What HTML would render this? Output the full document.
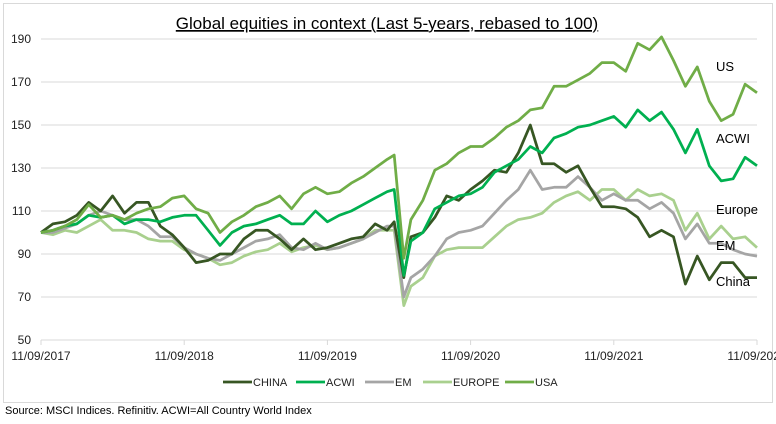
<!DOCTYPE html>
<html><head><meta charset="utf-8"><style>
body{margin:0;background:#fff;width:776px;height:419px;overflow:hidden;font-family:"Liberation Sans",sans-serif}
</style></head><body>
<svg width="776" height="419" xmlns="http://www.w3.org/2000/svg">
<rect x="3.5" y="3.5" width="769" height="399" fill="#fff" stroke="#d9d9d9"/>
<text x="387" y="29" text-anchor="middle" font-size="17" fill="#000" text-decoration="underline">Global equities in context (Last 5-years, rebased to 100)</text>
<g id="grid"></g>
<g id="yticks"></g>
<g id="xticks"></g>
<g id="series"></g>
<g font-size="13" fill="#000">
<text x="716" y="71">US</text>
<text x="716" y="143">ACWI</text>
<text x="716" y="214">Europe</text>
<text x="716" y="250">EM</text>
<text x="716" y="286">China</text>
</g>
<g id="legend"></g>
<text x="5" y="414" font-size="11" fill="#000">Source: MSCI Indices. Refinitiv. ACWI=All Country World Index</text>
</svg>
<script>
const months=[0,1,2,3,4,5,6,7,8,9,10,11,12,13,14,15,16,17,18,19,20,21,22,23,24,25,26,27,28,29,29.6,30.4,31,32,33,34,35,36,37,38,39,40,41,42,43,44,45,46,47,48,49,50,51,52,53,54,55,56,57,58,59,60];
const usa=[100,101,103,106,113,107,108,106,109,111,112,116,117,111,109,100,105,108,112,114,117,111,118,121,118,119,123,126,130,134,136,88,106,115,129,132,137,140,140,144,149,152,157,158,168,168,171,174,179,179,175,188,185,191,180,168,177,161,152,155,169,165];
const acwi=[100,101,103,104,108,107,108,104,106,106,105,107,108,108,101,94,100,103,104,106,108,104,104,110,105,108,110,113,116,119,120,80,96,100,111,114,117,118,121,128,131,134,140,137,144,146,149,150,152,154,149,157,152,156,148,137,148,131,124,125,135,131];
const china=[100,104,105,108,114,110,117,109,114,114,103,99,93,86,87,90,90,97,101,101,97,92,97,92,93,95,97,98,104,101,105,79,98,100,107,117,115,120,124,129,128,137,150,132,132,128,131,121,112,112,111,107,98,101,98,76,89,78,86,86,79,79];
const em=[100,100,102,104,108,110,108,106,106,103,98,98,93,90,88,87,90,93,96,97,99,93,92,95,92,93,95,97,100,103,103,70,79,83,89,97,100,101,103,109,115,120,129,120,121,121,126,121,115,118,115,115,111,114,109,97,104,95,95,92,90,89];
const europe=[100,99,101,100,103,106,101,101,100,97,96,96,92,90,88,85,86,89,91,92,95,91,93,94,92,93,95,97,101,101,101,66,75,79,89,92,93,93,93,98,103,106,107,109,114,117,119,115,120,120,115,120,117,118,115,101,109,97,103,97,98,93];
const yTicks=[50,70,90,110,130,150,170,190];
const xTickMonths=[0,12,24,36,48,60];
const xTickLabels=["11/09/2017","11/09/2018","11/09/2019","11/09/2020","11/09/2021","11/09/2022"];
const seriesNames=["CHINA","ACWI","EM","EUROPE","USA"];
const NS="http://www.w3.org/2000/svg";
const X0=41,X1=757,Y0=340,Y1=39;
const x=m=>X0+(X1-X0)*m/60;
const y=v=>Y0-(v-50)*(Y0-Y1)/140;
function mk(tag,attrs,parent){const e=document.createElementNS(NS,tag);for(const k in attrs)e.setAttribute(k,attrs[k]);parent.appendChild(e);return e;}
const grid=document.getElementById('grid'),yt=document.getElementById('yticks'),xt=document.getElementById('xticks');
yTicks.forEach(v=>{
  const l=mk('line',{x1:X0,x2:X1,y1:y(v),y2:y(v),stroke:'#d9d9d9','stroke-width':1},grid);
  
  
  const t=mk('text',{x:31,y:y(v)+4,'text-anchor':'end','font-size':12,fill:'#222'},yt);
  t.textContent=v;
  
  
});
xTickMonths.forEach((m,i)=>{
  const l=mk('line',{x1:x(m),x2:x(m),y1:Y0,y2:Y0+5,stroke:'#d9d9d9'},xt);
  
  
  const t=mk('text',{x:x(m),y:360,'text-anchor':'middle','font-size':12,fill:'#222'},xt);
  t.textContent=xTickLabels[i];
  
  
});
const colors=["#375623","#00B050","#A5A5A5","#A9D08E","#70AD47"];
const data=[china,acwi,em,europe,usa];
const order=[3,2,0,1,4];
const sg=document.getElementById('series');
order.forEach(i=>{
  const d=data[i].map((v,k)=>(k?'L':'M')+x(months[k]).toFixed(1)+','+y(v).toFixed(1)).join('');
  const p=mk('path',{d:d,fill:'none',stroke:colors[i],'stroke-width':2.75,'stroke-linejoin':'round'},sg);
  
  
});
const lg=document.getElementById('legend');
const lx=[223,296,365,423,505];
seriesNames.forEach((n,i)=>{
  const l=mk('line',{x1:lx[i],x2:lx[i]+29,y1:382,y2:382,stroke:colors[i],'stroke-width':2.75},lg);
  
  
  const t=mk('text',{x:lx[i]+30,y:386,'font-size':11,fill:'#222'},lg);
  t.textContent=n;
  
  
});
</script>
</body></html>
